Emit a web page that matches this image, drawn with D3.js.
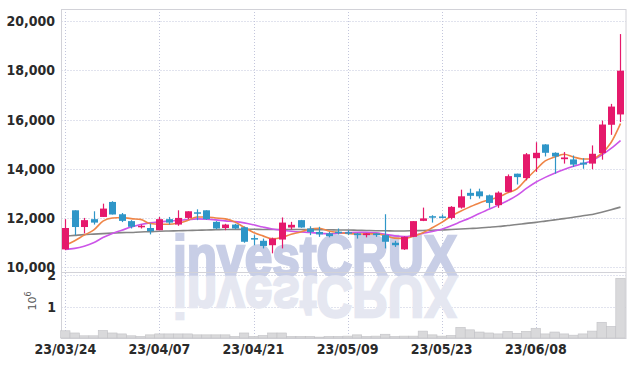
<!DOCTYPE html>
<html>
<head>
<meta charset="utf-8">
<script src="https://cdn.jsdelivr.net/npm/d3@7"></script>
<style>
  html, body { margin: 0; padding: 0; background: #fff; }
  svg { display: block; }
  .tick-label { font-family: "Liberation Sans Narrow", "DejaVu Sans Condensed", sans-serif; font-size: 14px; font-weight: bold; fill: #2a2a2a; }
</style>
</head>
<body>
<svg id="chart" width="634" height="366"></svg>
<script>
// ---------------------------------------------
//  Data
// ---------------------------------------------

const dates = [
  "23/03/24", "23/03/27", "23/03/28", "23/03/29", "23/03/30", "23/03/31",
  "23/04/03", "23/04/04", "23/04/05", "23/04/06", "23/04/07", "23/04/10",
  "23/04/11", "23/04/12", "23/04/13", "23/04/14", "23/04/17", "23/04/18",
  "23/04/19", "23/04/20", "23/04/21", "23/04/24", "23/04/25", "23/04/26",
  "23/04/27", "23/04/28", "23/05/02", "23/05/03", "23/05/04", "23/05/08",
  "23/05/09", "23/05/10", "23/05/11", "23/05/12", "23/05/15", "23/05/16",
  "23/05/17", "23/05/18", "23/05/19", "23/05/22", "23/05/23", "23/05/24",
  "23/05/25", "23/05/26", "23/05/30", "23/05/31", "23/06/01", "23/06/02",
  "23/06/05", "23/06/07", "23/06/08", "23/06/09", "23/06/12", "23/06/13",
  "23/06/14", "23/06/15", "23/06/16", "23/06/19", "23/06/20", "23/06/21"
];

const opens = [
  10720, 12310, 11630, 11950, 12040, 12650, 12150, 11870, 11650, 11590,
  11500, 11950, 11730, 12000, 12230, 12310, 11840, 11590, 11730, 11620,
  11180, 11070, 10890, 11120, 11610, 11910, 11570, 11430, 11370, 11440,
  11420, 11370, 11300, 11370, 11300, 10990, 10720, 11230, 11880, 12070,
  12060, 12000, 12420, 13020, 13080, 12920, 12520, 13060, 13800, 13620,
  14430, 14990, 14650, 14390, 14380, 14250, 14210, 14640, 15790, 16210
];
const highs = [
  11950, 12310, 12000, 12270, 12580, 12680, 12200, 11910, 11730, 11770,
  12040, 12040, 12310, 12270, 12350, 12310, 11870, 11760, 11760, 11650,
  11300, 11160, 11200, 12020, 11840, 11920, 11660, 11640, 11430, 11570,
  11500, 11390, 11380, 11380, 12150, 11070, 11250, 11870, 12420, 12110,
  12140, 12480, 13150, 13190, 13190, 12950, 13080, 13770, 13800, 14640,
  15080, 15000, 14670, 14680, 14540, 14430, 14950, 15960, 16640, 19480
];
const lows = [
  10690, 11300, 11370, 11730, 12040, 12140, 11830, 11570, 11570, 11330,
  11500, 11730, 11680, 11950, 11910, 11920, 11540, 11500, 11540, 10990,
  10890, 10760, 10560, 10760, 11530, 11600, 11300, 11230, 11210, 11330,
  11300, 11160, 11210, 11230, 10760, 10820, 10700, 11220, 11870, 11810,
  11980, 11940, 12380, 12760, 12790, 12410, 12410, 13040, 13360, 13530,
  13870, 14500, 13800, 14210, 14070, 14000, 13980, 14370, 15380, 15900
];
const closes = [
  11590, 11630, 11910, 11810, 12380, 12140, 11880, 11640, 11680, 11460,
  11950, 11810, 12000, 12270, 12190, 11950, 11570, 11730, 11570, 11030,
  11140, 10860, 11160, 11810, 11720, 11610, 11430, 11330, 11260, 11420,
  11390, 11300, 11370, 11300, 11030, 10890, 11230, 11870, 11980, 12030,
  12020, 12450, 12880, 12900, 12880, 12610, 13030, 13700, 13660, 14590,
  14650, 14650, 14500, 14460, 14170, 14170, 14610, 15800, 16530, 17990
];

// moving averages as drawn (5, 10 and long term)
const ma5 = [
  10890, 11070, 11300, 11500, 11870, 12000, 12020, 11970, 11940, 11770,
  11740, 11740, 11790, 11900, 12040, 12040, 12000, 11960, 11840, 11620,
  11410, 11270, 11150, 11200, 11340, 11430, 11550, 11580, 11470, 11410,
  11370, 11340, 11350, 11350, 11280, 11180, 11160, 11260, 11400, 11600,
  11820, 12070, 12270, 12450, 12610, 12730, 12840, 13020, 13180, 13580,
  13960, 14320, 14480, 14590, 14480, 14400, 14400, 14630, 15070, 15840
];
const ma10 = [
  10720, 10760, 10850, 10990, 11200, 11370, 11500, 11630, 11730, 11800,
  11840, 11870, 11900, 11930, 11960, 11950, 11920, 11880, 11850, 11800,
  11720, 11630, 11550, 11500, 11460, 11430, 11410, 11370, 11350, 11380,
  11400, 11420, 11420, 11390, 11330, 11270, 11240, 11290, 11370, 11450,
  11540, 11680, 11840, 12000, 12180, 12350, 12520, 12700, 12920, 13200,
  13450, 13650, 13820, 13970, 14100, 14210, 14340, 14560, 14830, 15150
];
const maLong = [
  11260, 11290, 11320, 11340, 11360, 11380, 11400, 11410, 11430, 11440,
  11460, 11470, 11480, 11490, 11500, 11510, 11520, 11530, 11530, 11540,
  11540, 11530, 11530, 11530, 11530, 11530, 11520, 11520, 11520, 11510,
  11510, 11500, 11490, 11480, 11480, 11470, 11470, 11480, 11490, 11500,
  11510, 11530, 11550, 11570, 11590, 11620, 11650, 11690, 11730, 11780,
  11820, 11870, 11920, 11970, 12030, 12090, 12140, 12230, 12330, 12440
];

const volumes = [
  230000, 160000, 70000, 70000, 240000, 160000, 130000, 70000, 50000, 100000,
  130000, 130000, 130000, 130000, 100000, 100000, 100000, 100000, 50000, 160000,
  50000, 80000, 160000, 160000, 50000, 50000, 50000, 30000, 50000, 50000,
  60000, 100000, 50000, 60000, 120000, 50000, 60000, 60000, 220000, 100000,
  60000, 80000, 340000, 260000, 190000, 160000, 130000, 210000, 150000, 210000,
  310000, 130000, 190000, 130000, 90000, 130000, 220000, 500000, 370000, 1900000
];

const priceTicks = [10000, 12000, 14000, 16000, 18000, 20000];
const volumeTicks = [1000000, 2000000];
const dateTickIndex = [0, 10, 20, 30, 40, 50];

// ---------------------------------------------
//  Scales & layout
// ---------------------------------------------

const svg = d3.select("#chart");
const left = 61.5, right = 626;
const mainTop = 9, mainBottom = 272;
const volTop = 272, volBottom = 338;

const upColor = "#e5196b";
const downColor = "#2f96c8";
const gridColor = "#c3c6dc";

const x = d3.scaleBand()
  .domain(d3.range(dates.length))
  .range([60.6, 625.2]);
const cx = i => x(i) + x.bandwidth() / 2;

const y = d3.scaleLinear().domain([9800, 20500]).range([mainBottom, mainTop]);
const yVol = d3.scaleLinear().domain([0, 2100000]).range([volBottom, volTop]);

// ---------------------------------------------
//  Grid
// ---------------------------------------------

const grid = svg.append("g");
grid.selectAll(".hgrid")
  .data(priceTicks)
  .enter().append("line")
  .attr("x1", left).attr("x2", right)
  .attr("y1", d => Math.round(y(d)) + 0.5)
  .attr("y2", d => Math.round(y(d)) + 0.5)
  .attr("stroke", gridColor).attr("stroke-dasharray", "1,2");

grid.selectAll(".hgrid-vol")
  .data(volumeTicks)
  .enter().append("line")
  .attr("x1", left).attr("x2", right)
  .attr("y1", d => Math.round(yVol(d)) + 0.5)
  .attr("y2", d => Math.round(yVol(d)) + 0.5)
  .attr("stroke", gridColor).attr("stroke-dasharray", "1,2");

grid.selectAll(".vgrid")
  .data(dateTickIndex)
  .enter().append("line")
  .attr("x1", d => Math.round(cx(d)) + 0.5)
  .attr("x2", d => Math.round(cx(d)) + 0.5)
  .attr("y1", mainTop).attr("y2", volBottom)
  .attr("stroke", gridColor).attr("stroke-dasharray", "1,2");

// ---------------------------------------------
//  Watermark (with its mirror image)
// ---------------------------------------------

const wm = svg.append("g").attr("font-family", "Liberation Sans, Arial, sans-serif")
  .attr("font-weight", "bold").attr("font-size", 58);
wm.append("text")
  .attr("x", 173).attr("y", 276)
  .attr("textLength", 284).attr("lengthAdjust", "spacingAndGlyphs")
  .attr("fill", "#c8cee6").attr("stroke", "#c8cee6").attr("stroke-width", 2.5)
  .text("investCRUX");
wm.append("text")
  .attr("transform", "translate(0,553) scale(1,-1)")
  .attr("x", 173).attr("y", 276)
  .attr("textLength", 284).attr("lengthAdjust", "spacingAndGlyphs")
  .attr("fill", "#e5e7f1").attr("stroke", "#e5e7f1").attr("stroke-width", 2.5)
  .text("investCRUX");

// ---------------------------------------------
//  Frame
// ---------------------------------------------

const frame = svg.append("g").attr("stroke", "#d2d2d8").attr("fill", "none");
frame.append("rect").attr("x", left).attr("y", mainTop + 0.5)
  .attr("width", right - left).attr("height", volBottom - mainTop);
frame.append("line").attr("x1", left).attr("x2", right)
  .attr("y1", volTop + 0.5).attr("y2", volTop + 0.5);

// ---------------------------------------------
//  Volume bars
// ---------------------------------------------

svg.append("g").selectAll("rect")
  .data(volumes)
  .enter().append("rect")
  .attr("x", (d, i) => x(i))
  .attr("width", x.bandwidth())
  .attr("y", d => yVol(d))
  .attr("height", d => volBottom - yVol(d))
  .attr("fill", "#d9d9db")
  .attr("stroke", "#c2c2c6")
  .attr("stroke-width", 0.6);

// ---------------------------------------------
//  Moving averages
// ---------------------------------------------

const maLine = d3.line()
  .x((d, i) => cx(i))
  .y(d => y(d))
  .curve(d3.curveMonotoneX);

[[maLong, "#858585"], [ma10, "#cc55e8"], [ma5, "#ef8547"]].forEach(([series, color]) => {
  svg.append("path")
    .datum(series)
    .attr("d", maLine)
    .attr("fill", "none")
    .attr("stroke", color)
    .attr("stroke-width", 1.6);
});

// ---------------------------------------------
//  Candles
// ---------------------------------------------

const candles = svg.append("g").selectAll("g")
  .data(d3.range(dates.length))
  .enter().append("g");

candles.append("line")
  .attr("x1", i => Math.round(cx(i)) + 0.5)
  .attr("x2", i => Math.round(cx(i)) + 0.5)
  .attr("y1", i => y(highs[i]))
  .attr("y2", i => y(lows[i]))
  .attr("stroke", i => closes[i] >= opens[i] ? upColor : downColor)
  .attr("stroke-width", 1.2);

const bodyW = 7;
candles.append("rect")
  .attr("x", i => Math.round(cx(i)) + 0.5 - bodyW / 2)
  .attr("width", bodyW)
  .attr("y", i => y(Math.max(opens[i], closes[i])))
  .attr("height", i => Math.max(1.5, Math.abs(y(opens[i]) - y(closes[i]))))
  .attr("fill", i => closes[i] >= opens[i] ? upColor : downColor);

// ---------------------------------------------
//  Axis labels
// ---------------------------------------------

const fmt = d3.format(",");
svg.append("g").selectAll("text")
  .data(priceTicks)
  .enter().append("text")
  .attr("class", "tick-label")
  .attr("x", 55).attr("y", d => y(d))
  .attr("dy", "0.36em")
  .attr("text-anchor", "end")
  .text(d => fmt(d));

svg.append("g").selectAll("text")
  .data(volumeTicks)
  .enter().append("text")
  .attr("class", "tick-label")
  .attr("x", 56).attr("y", d => yVol(d))
  .attr("dy", "0.36em")
  .attr("text-anchor", "end")
  .text(d => d / 1000000);

const unit = svg.append("text")
  .attr("transform", "translate(36,301) rotate(-90)")
  .attr("text-anchor", "middle")
  .attr("font-family", "DejaVu Sans, sans-serif")
  .attr("font-size", 11)
  .attr("fill", "#555");
unit.append("tspan").text("10");
unit.append("tspan").attr("font-size", 8).attr("dy", -5).text("6");

svg.append("g").selectAll("text")
  .data(dateTickIndex)
  .enter().append("text")
  .attr("class", "tick-label")
  .attr("x", i => cx(i))
  .attr("y", 354)
  .attr("text-anchor", "middle")
  .text(i => dates[i]);
</script>
</body>
</html>
